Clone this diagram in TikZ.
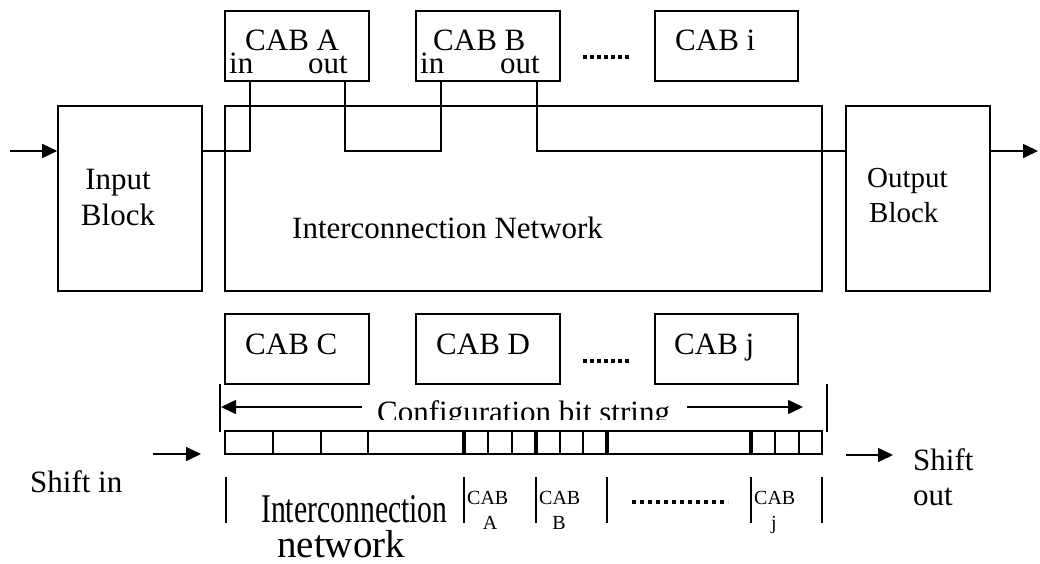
\documentclass[tikz,border=0pt]{standalone}
\usepackage{fontspec}
\usepackage{graphicx}
\setmainfont{Liberation Serif}
\usetikzlibrary{arrows.meta}
\newcommand\setfs[1]{\fontsize{#1}{#1}\selectfont}
\begin{document}
\begin{tikzpicture}[x=1pt,y=-1pt,
  lw/.style={line width=1.6pt},
  blk/.style={draw,lw,inner sep=0pt,minimum width=#1},
  arr/.style={lw,-{Triangle[length=15pt,width=14pt]}},
  lbl/.style={inner sep=0pt,font=\setfs{31}},
  small/.style={inner sep=0pt,font=\setfs{29}},
  tiny/.style={inner sep=0pt,font=\setfs{20}},
  dots/.style={line width=3.2pt,dash pattern=on 4pt off 3pt},
  tick/.style={lw}]
\useasboundingbox (0,0) rectangle (1040,563);

% main blocks
\node[blk=144pt,minimum height=185pt] (inblk)  at (130,198.5) {};
\node[blk=597pt,minimum height=185pt] (net)    at (523.5,198.5) {};
\node[blk=144pt,minimum height=185pt] (outblk) at (918,198.5) {};

% upper CABs
\node[blk=144pt,minimum height=70pt] (cabA) at (297,46) {};
\node[blk=144pt,minimum height=70pt] (cabB) at (488,46) {};
\node[blk=143pt,minimum height=70pt] (cabI) at (726.5,46) {};

% lower CABs
\node[blk=144pt,minimum height=70pt] (cabC) at (297,349) {};
\node[blk=144pt,minimum height=70pt] (cabD) at (488,349) {};
\node[blk=143pt,minimum height=70pt] (cabJ) at (726.5,349) {};

% labels in the blocks
\node[lbl,anchor=base] (tInput) at (118,189) {Input};
\node[lbl,anchor=base] (tInBlock) at (118,225) {Block};
\node[small,anchor=base west] (tOutput) at (867,187) {Output};
\node[small,anchor=base west] (tOutBlock) at (869,222) {Block};
\node[lbl,anchor=base west] (tNet) at (292,238) {Interconnection Network};

\node[lbl,anchor=base west] (tA) at (245,50) {CAB A};
\node[lbl,anchor=base west] (tAin) at (229,73) {in};
\node[lbl,anchor=base east] (tAout) at (348,73) {out};
\node[lbl,anchor=base west] (tB) at (433,50) {CAB B};
\node[lbl,anchor=base west] (tBin) at (420,73) {in};
\node[lbl,anchor=base east] (tBout) at (540,73) {out};
\node[lbl,anchor=base west] (tI) at (675,50) {CAB i};

\node[lbl,anchor=base west] (tC) at (245,354) {CAB C};
\node[lbl,anchor=base west] (tD) at (436,354) {CAB D};
\node[lbl,anchor=base west] (tJ) at (674,354) {CAB j};

% ellipses between CABs
\coordinate (d1a) at (583,57);  \coordinate (d1b) at (631,57);
\coordinate (d2a) at (583,361); \coordinate (d2b) at (631,361);
\draw[dots] (d1a) -- (d1b);
\draw[dots] (d2a) -- (d2b);

% CAB ports and signal wiring
\coordinate (Ain)  at (250,81);
\coordinate (Aout) at (345,81);
\coordinate (Bin)  at (441,81);
\coordinate (Bout) at (537,81);
\coordinate (wy)   at (0,151);
\coordinate (srcIn) at (10,151);
\coordinate (snkOut) at (1038,151);
\draw[lw] (inblk.east |- wy) -| (Ain);
\draw[lw] (Aout) -- (Aout |- wy) -- (Bin |- wy) -- (Bin);
\draw[lw] (Bout) -- (Bout |- wy) -- (outblk.west |- wy);
\draw[arr] (srcIn) -- (inblk.west |- wy);
\draw[arr] (outblk.east |- wy) -- (snkOut);

% configuration bit string extent
\coordinate (cfgLt) at (220,384); \coordinate (cfgLb) at (220,432);
\coordinate (cfgRt) at (827,384); \coordinate (cfgRb) at (827,432);
\draw[tick] (cfgLt) -- (cfgLb);
\draw[tick] (cfgRt) -- (cfgRb);
\coordinate (cfgA) at (362,407); \coordinate (cfgB) at (687,407);
\coordinate (cfgAt) at (221,407); \coordinate (cfgBt) at (803,407);
\draw[arr] (cfgA) -- (cfgAt);
\draw[arr] (cfgB) -- (cfgBt);
\begin{scope}
  \clip (360,390) rectangle (700,419.5);
  \node[lbl,anchor=base west] (tCfg) at (377,422) {Configuration bit string};
\end{scope}

% the bit string register
\node[blk=597pt,minimum height=23pt] (bar) at (523.5,442.5) {};
\foreach \x in {273,321,368,488,512,560,583,775,799}
  \draw[lw] (\x,431) -- (\x,454);
\foreach \x in {464,536,607,751}
  \draw[line width=4.5pt] (\x,431) -- (\x,454);

% shift in / shift out
\coordinate (shInA) at (153,454);  \coordinate (shInB) at (201,454);
\coordinate (shOutA) at (846,455); \coordinate (shOutB) at (893,455);
\draw[arr] (shInA) -- (shInB);
\draw[arr] (shOutA) -- (shOutB);
\node[lbl,anchor=base west] (tShIn) at (30,492) {Shift in};
\node[lbl,anchor=base west] (tShOut1) at (913,470) {Shift};
\node[lbl,anchor=base west] (tShOut2) at (913,505) {out};

% field boundaries under the register
\foreach \x in {226,464,536,607,751,822}
  \draw[tick] (\x,477) -- (\x,523);
\node[inner sep=0pt,font=\setfs{30},anchor=base west] (tField1) at (261,522)
  {\scalebox{0.99}[1.36]{Interconnection}};
\node[inner sep=0pt,font=\setfs{39},anchor=base west] (tField2) at (277,557)
  {network};
\node[tiny,anchor=base west] (fA1) at (467,504) {CAB};
\node[tiny,anchor=base] (fA2) at (490,529) {A};
\node[tiny,anchor=base west] (fB1) at (539,504) {CAB};
\node[tiny,anchor=base] (fB2) at (559,529) {B};
\node[tiny,anchor=base west] (fJ1) at (754,504) {CAB};
\node[tiny,anchor=base] (fJ2) at (774,529) {j};
\coordinate (d3a) at (632,502); \coordinate (d3b) at (728,502);
\draw[dots,dash pattern=on 4pt off 4pt] (d3a) -- (d3b);
\end{tikzpicture}
\end{document}
